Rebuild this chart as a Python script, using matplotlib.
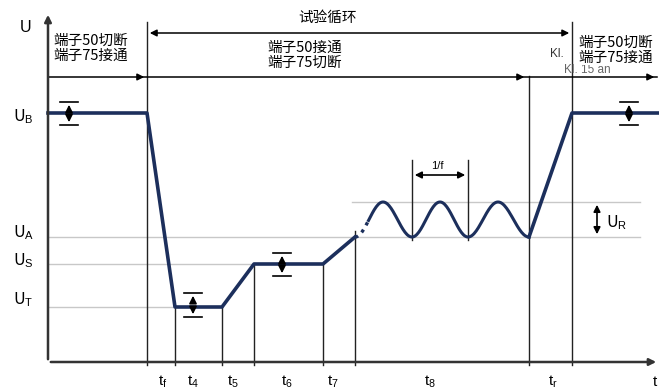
import numpy as np
import matplotlib.pyplot as plt

plt.rcParams['font.family'] = ['Noto Sans CJK SC', 'DejaVu Sans']
plt.rcParams['mathtext.fontset'] = 'custom'
plt.rcParams['mathtext.rm'] = 'Liberation Sans'
plt.rcParams['mathtext.it'] = 'Liberation Sans:italic'

# diagram coordinates (x = time position, y = level, measured top-down like the picture)
u_levels = {'U': 28, 'UB': 113, 'UR_top': 202, 'UA': 237, 'US': 264, 'UT': 307}
t_marks = [147, 175, 222, 254, 323, 355, 529, 572]   # tf, t4 start, t5, t6 start, t7, t8 start, t8 end, tr
t_names = [r't$_\mathrm{f}$', r't$_\mathrm{4}$', r't$_\mathrm{5}$', r't$_\mathrm{6}$',
           r't$_\mathrm{7}$', r't$_\mathrm{8}$', r't$_\mathrm{r}$', 't']
t_label_x = [163, 193, 233, 287, 333, 430, 553, 655]

# voltage profile corners
prof_x = [48, 147, 175, 222, 254, 323, 355]
prof_y = [113, 113, 307, 307, 264, 264, 237]
# ripple extremes (trough / peak alternately)
wave_x = [355, 383, 412, 440, 468, 498, 529]
wave_y = [237, 202, 237, 202, 237, 202, 237]
end_x = [529, 572, 659]
end_y = [237, 113, 113]

x_axis_y = 362
y_axis_x = 48
navy = '#1c2f5c'
grey = '#c8c8c8'

fig = plt.figure(figsize=(6.59, 3.9), dpi=100)
ax = fig.add_axes([0, 0, 1, 1])
ax.set_xlim(0, 659)
ax.set_ylim(390, 0)
ax.axis('off')

# reference lines
ax.plot([48, 175], [u_levels['UT']] * 2, color=grey, lw=1)
ax.plot([48, 254], [u_levels['US']] * 2, color=grey, lw=1)
ax.plot([48, 640], [u_levels['UA']] * 2, color=grey, lw=1)
ax.plot([352, 640], [u_levels['UR_top']] * 2, color=grey, lw=1)

# axes
ax.annotate('', xy=(y_axis_x, 12), xytext=(y_axis_x, x_axis_y),
            arrowprops=dict(arrowstyle='-|>', color='#333333', lw=1.8, mutation_scale=10))
ax.annotate('', xy=(659, x_axis_y), xytext=(y_axis_x, x_axis_y),
            arrowprops=dict(arrowstyle='-|>', color='#333333', lw=1.8, mutation_scale=10))

# vertical time markers
v_top = [22, 307, 307, 264, 264, 231, 76, 22]
for x, top in zip(t_marks, v_top):
    ax.plot([x, x], [top, 365], color='#222222', lw=1)
for x in [412, 468]:
    ax.plot([x, x], [160, 240], color='#222222', lw=1)

# profile
ax.plot(prof_x, prof_y, color=navy, lw=2.6, solid_joinstyle='round')
# ripple: half cosines between extremes
wx, wy = [], []
for i in range(len(wave_x) - 1):
    s = np.linspace(0, 1, 30)
    wx.append(wave_x[i] + (wave_x[i + 1] - wave_x[i]) * s)
    wy.append(wave_y[i] + (wave_y[i + 1] - wave_y[i]) * (1 - np.cos(np.pi * s)) / 2)
wx = np.concatenate(wx)
wy = np.concatenate(wy)
dot = wx <= 369
ax.plot(wx[dot], wy[dot], color=navy, lw=2.4, ls=(0, (1, 1.5)))
ax.plot(wx[wx >= 368], wy[wx >= 368], color=navy, lw=2.2)
ax.plot(end_x, end_y, color=navy, lw=2.6)

# tolerance markers
def tol(x, y0, y1):
    ym = (y0 + y1) / 2
    for yy in (y0, y1):
        ax.annotate('', xy=(x, yy), xytext=(x, ym),
                    arrowprops=dict(arrowstyle='-|>', color='black', lw=1.2, mutation_scale=11))
        ax.plot([x - 9, x + 9], [yy, yy], color='black', lw=1.2)

tol(69, 102, 125)
tol(629, 102, 125)
tol(193, 293, 317)
tol(282, 253, 276)
ax.annotate('', xy=(597, 202), xytext=(597, 237),
            arrowprops=dict(arrowstyle='<|-|>', color='black', lw=1.2, mutation_scale=10))
ax.annotate('', xy=(412, 175), xytext=(468, 175),
            arrowprops=dict(arrowstyle='<|-|>', color='black', lw=1.2, mutation_scale=10))
ax.text(437, 166, '1/f', fontsize=8, ha='center', va='center', family='Liberation Sans')

# switching arrows
ax.annotate('', xy=(147, 33), xytext=(572, 33),
            arrowprops=dict(arrowstyle='<|-|>', color='black', lw=1.1, mutation_scale=10))
ax.plot([48, 657], [77, 77], color='black', lw=1.1)
for xa in [147, 527, 657]:
    ax.annotate('', xy=(xa, 77), xytext=(xa - 12, 77),
                arrowprops=dict(arrowstyle='-|>', color='black', lw=1.1, mutation_scale=10))

ax.text(328, 18, '试验循环', fontsize=10.5, ha='center', va='center')
ax.text(53, 48, '端子50切断\n端子75接通', fontsize=10.5, ha='left', va='center', linespacing=1.1)
ax.text(305, 55, '端子50接通\n端子75切断', fontsize=10.5, ha='center', va='center', linespacing=1.1)
ax.text(557, 54, 'Kl.', fontsize=8.5, ha='center', va='center', color='#333333', family='Liberation Sans')
ax.text(564, 70, 'Kl. 15 an', fontsize=8.5, ha='left', va='center', color='#666666', family='Liberation Sans')
ax.text(578, 50, '端子50切断\n端子75接通', fontsize=10.5, ha='left', va='center', linespacing=1.1,
        bbox=dict(facecolor='white', edgecolor='none', pad=0.3))

# level labels
ax.text(26, u_levels['U'], 'U', fontsize=11.5, ha='center', va='center', family='Liberation Sans')
ax.text(13, 117, r'U$_\mathrm{B}$', fontsize=11.5, ha='left', va='center')
ax.text(13, 233, r'U$_\mathrm{A}$', fontsize=11.5, ha='left', va='center')
ax.text(13, 261, r'U$_\mathrm{S}$', fontsize=11.5, ha='left', va='center')
ax.text(13, 300, r'U$_\mathrm{T}$', fontsize=11.5, ha='left', va='center')
ax.text(606, 223, r'U$_\mathrm{R}$', fontsize=11.5, ha='left', va='center')

for name, x in zip(t_names, t_label_x):
    ax.text(x, 382, name, fontsize=11, ha='center', va='center', family='Liberation Sans')

fig.savefig('out.png', dpi=100)
